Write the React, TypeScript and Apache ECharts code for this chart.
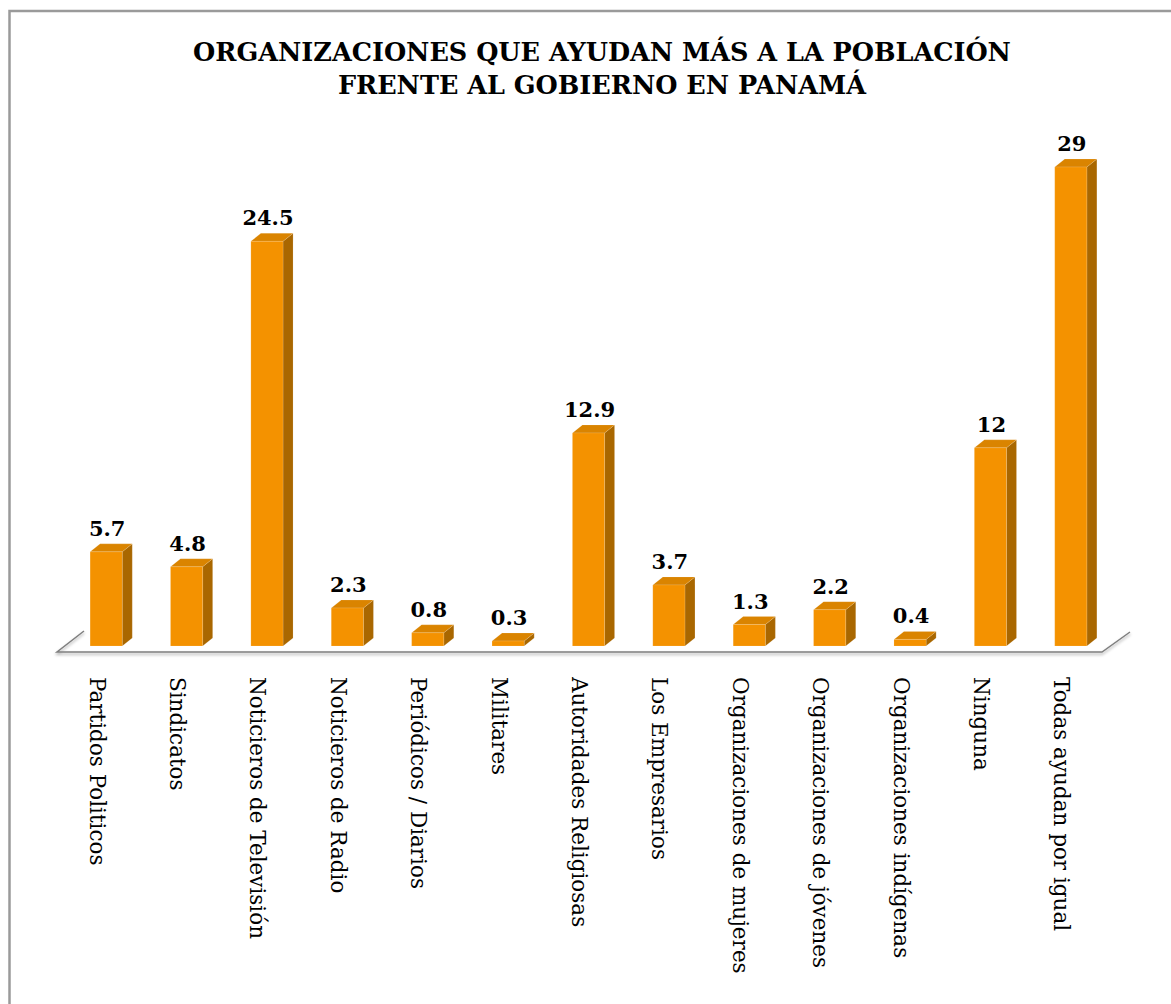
import React, { useEffect, useRef } from "react";
import * as echarts from "echarts";

const categories = [
  "Partidos Politicos",
  "Sindicatos",
  "Noticieros de Televisión",
  "Noticieros de Radio",
  "Periódicos / Diarios",
  "Militares",
  "Autoridades Religiosas",
  "Los Empresarios",
  "Organizaciones de mujeres",
  "Organizaciones de jóvenes",
  "Organizaciones indígenas",
  "Ninguna",
  "Todas ayudan por igual",
];
const values = [5.7, 4.8, 24.5, 2.3, 0.8, 0.3, 12.9, 3.7, 1.3, 2.2, 0.4, 12, 29];
const titleText = "ORGANIZACIONES QUE AYUDAN MÁS A LA POBLACIÓN\nFRENTE AL GOBIERNO EN PANAMÁ";

const FONT = "'DejaVu Serif', 'Liberation Serif', serif";
const FRONT = "#F49200";
const TOP = "#DA8400";
const SIDE = "#A96700";

export default function App() {
  const ref = useRef<HTMLDivElement>(null);
  useEffect(() => {
    if (!ref.current) return;
    const chart = echarts.init(ref.current, null, { renderer: "svg" });
    const n = categories.length;
    const option: any = {
      animation: false,
      backgroundColor: "#ffffff",
      title: {
        text: titleText,
        left: 597,
        textAlign: "center",
        top: 30,
        textStyle: {
          fontFamily: FONT,
          fontWeight: "bold",
          fontSize: 25.5,
          lineHeight: 33,
          color: "#000",
        },
      },
      graphic: [
        {
          type: "rect",
          shape: { x: 9.5, y: 11, width: 1400, height: 1400 },
          style: { fill: "none", stroke: "#9a9a9a", lineWidth: 2.5 },
          silent: true,
        },
      ],
      grid: { left: 57, right: 69, top: 156.5, bottom: 352 },
      xAxis: {
        type: "category",
        data: categories,
        axisLine: { show: false },
        axisTick: { show: false },
        axisLabel: {
          rotate: -90,
          margin: 25,
          interval: 0,
          fontFamily: FONT,
          fontSize: 21.5,
          color: "#000",
        },
      },
      yAxis: { type: "value", min: 0, max: 30, show: false, splitLine: { show: false } },
      series: [
        {
          type: "custom",
          silent: true,
          data: [[0, 0]],
          z: 1,
          renderItem: (params: any, api: any) => {
            const band = api.size([1, 0])[0];
            const p0 = api.coord([0, 0]);
            const p1 = api.coord([n - 1, 0]);
            const left = p0[0] - band / 2;
            const right = p1[0] + band / 2;
            const y = p0[1];
            return {
              type: "polyline",
              shape: {
                points: [
                  [left + 27, y - 21],
                  [left, y],
                  [right, y],
                  [right + 28, y - 20],
                ],
              },
              style: {
                stroke: "#7f7f7f",
                lineWidth: 1.5,
                fill: "none",
                shadowBlur: 3,
                shadowColor: "rgba(0,0,0,0.35)",
                shadowOffsetY: 2,
              },
            };
          },
        },
        {
          type: "custom",
          silent: true,
          z: 2,
          data: values.map((v, i) => [i, v]),
          renderItem: (params: any, api: any) => {
            const i = api.value(0);
            const v = api.value(1);
            const base = api.coord([i, 0]);
            const top = api.coord([i, v]);
            const band = api.size([1, 0])[0];
            const w = band * 0.4;
            const shift = 9;
            const lift = 6;
            const dx = 10;
            const dy = 8;
            const cx = base[0] + shift;
            const x0 = cx - w / 2;
            const x1 = cx + w / 2;
            const yb = base[1] - lift;
            const yt = top[1] - lift;
            return {
              type: "group",
              children: [
                {
                  type: "polygon",
                  shape: { points: [[x1, yb], [x1 + dx, yb - dy], [x1 + dx, yt - dy], [x1, yt]] },
                  style: { fill: SIDE, stroke: "rgba(255,255,255,0.25)", lineWidth: 0.5 },
                },
                {
                  type: "polygon",
                  shape: { points: [[x0, yt], [x0 + dx, yt - dy], [x1 + dx, yt - dy], [x1, yt]] },
                  style: { fill: TOP, stroke: "rgba(255,255,255,0.25)", lineWidth: 0.5 },
                },
                {
                  type: "rect",
                  shape: { x: x0, y: yt, width: w, height: yb - yt },
                  style: { fill: FRONT, stroke: "rgba(255,255,255,0.25)", lineWidth: 0.5 },
                },
                {
                  type: "text",
                  x: cx + 1,
                  y: yt - dy - 5,
                  style: {
                    text: String(v),
                    align: "center",
                    verticalAlign: "bottom",
                    fontFamily: FONT,
                    fontWeight: "bold",
                    fontSize: 21,
                    fill: "#000",
                  },
                },
              ],
            };
          },
        },
      ],
    };
    chart.setOption(option);
    return () => chart.dispose();
  }, []);
  return (
    <div
      ref={ref}
      style={{ position: "absolute", left: 0, top: 0, width: 1171, height: 1004 }}
    />
  );
}
